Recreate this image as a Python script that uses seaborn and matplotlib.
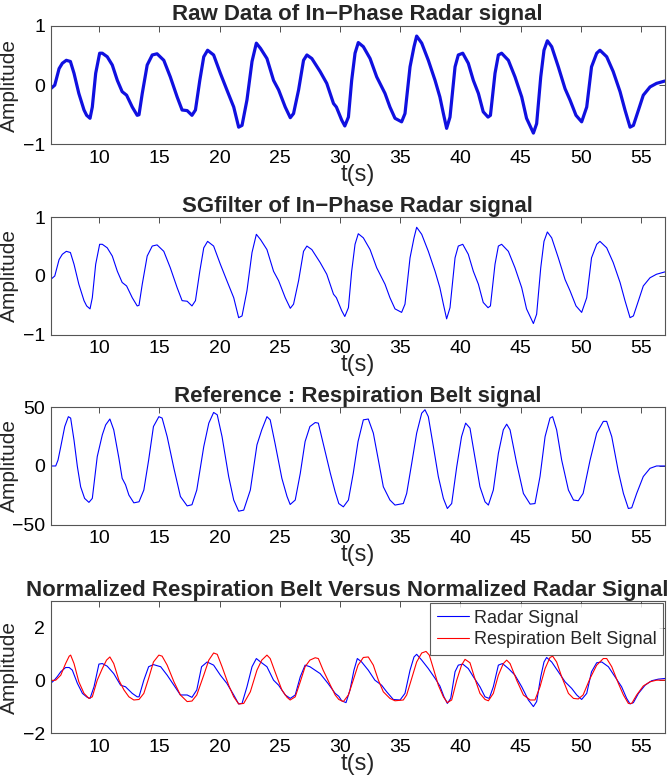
import matplotlib
matplotlib.use("Agg")
import matplotlib.pyplot as plt
import seaborn as sns

sns.set_style("white")
plt.rcParams['font.family'] = ['Liberation Sans', 'DejaVu Sans']

# === DATA ===

# in-phase radar signal (raw / SG filtered look the same at this scale)
radar_t = [5.96, 6.3, 6.66, 6.93, 7.26, 7.6, 7.9, 8.3, 8.73, 8.95, 9.23, 9.42, 9.7, 10.03, 10.25,
           10.66, 11.08, 11.5, 11.9, 12.27, 12.74, 13.15, 13.3, 13.57, 13.98, 14.4, 14.8, 15.36,
           15.9, 16.47, 16.88, 17.3, 17.7, 17.99, 18.35, 18.68, 19.0, 19.5, 20.06, 20.6, 21.17,
           21.58, 21.86, 22.27, 22.69, 23.05, 23.4, 23.93, 24.48, 24.9, 25.45, 25.87, 26.14,
           26.56, 26.97, 27.25, 27.66, 28.35, 28.9, 29.46, 29.7, 30.14, 30.4, 30.7, 30.97, 31.25,
           31.52, 31.94, 32.5, 33.05, 33.74, 34.15, 34.57, 35.12, 35.4, 35.82, 36.15, 36.37,
           36.79, 37.34, 37.9, 38.3, 38.59, 38.86, 39.14, 39.56, 39.83, 40.2, 40.66, 41.08, 41.5,
           41.9, 42.3, 42.5, 42.88, 43.16, 43.43, 43.99, 44.54, 45.1, 45.5, 46.07, 46.34, 46.68,
           46.95, 47.23, 47.59, 48.14, 48.7, 49.11, 49.61, 50.08, 50.5, 50.9, 51.33, 51.6, 52.16,
           52.7, 53.27, 53.68, 54.1, 54.38, 54.8, 55.2, 55.76, 56.3, 57.0]
radar_amp = [-0.06, 0.0, 0.28, 0.37, 0.42, 0.40, 0.2, -0.14, -0.42, -0.51, -0.56, -0.37, 0.2, 0.54,
             0.54, 0.48, 0.34, 0.08, -0.11, -0.17, -0.37, -0.51, -0.5, -0.14, 0.34, 0.51, 0.53,
             0.42, 0.14, -0.2, -0.42, -0.43, -0.51, -0.42, 0.08, 0.48, 0.59, 0.51, 0.2, -0.08,
             -0.37, -0.71, -0.68, -0.25, 0.40, 0.71, 0.62, 0.45, 0.08, -0.08, -0.37, -0.55, -0.48,
             -0.08, 0.42, 0.51, 0.45, 0.23, 0.03, -0.31, -0.37, -0.59, -0.69, -0.54, 0.08, 0.54,
             0.72, 0.65, 0.45, 0.14, -0.14, -0.37, -0.56, -0.62, -0.48, 0.31, 0.65, 0.83, 0.71,
             0.42, 0.08, -0.2, -0.48, -0.73, -0.54, 0.31, 0.51, 0.54, 0.37, 0.08, -0.14, -0.45,
             -0.54, -0.51, 0.2, 0.51, 0.54, 0.42, 0.14, -0.2, -0.56, -0.81, -0.65, 0.14, 0.59,
             0.75, 0.65, 0.31, -0.06, -0.25, -0.51, -0.62, -0.37, 0.31, 0.54, 0.59, 0.48, 0.23,
             -0.11, -0.42, -0.71, -0.68, -0.42, -0.17, -0.03, 0.03, 0.07]

# respiration belt signal
belt_t = [5.96, 6.38, 6.57, 6.8, 7.13, 7.43, 7.62, 7.9, 8.18, 8.45, 8.78, 9.14, 9.42, 9.83, 10.25,
          10.53, 10.88, 11.2, 11.63, 11.9, 12.18, 12.46, 12.87, 13.3, 13.7, 14.1, 14.5, 14.95,
          15.22, 15.64, 16.2, 16.74, 17.3, 17.7, 18.1, 18.68, 19.1, 19.5, 19.8, 20.2, 20.75,
          21.17, 21.58, 22.0, 22.55, 23.1, 23.5, 23.93, 24.2, 24.6, 25.17, 25.6, 25.86, 26.28,
          26.7, 27.1, 27.5, 27.94, 28.2, 28.6, 29.2, 29.6, 29.9, 30.28, 30.7, 31.1, 31.5, 31.94,
          32.35, 32.77, 33.19, 33.6, 34.15, 34.57, 35.26, 35.54, 35.96, 36.37, 36.79, 37.06,
          37.34, 37.76, 38.17, 38.59, 38.92, 39.28, 39.7, 40.1, 40.44, 40.8, 41.2, 41.63, 42.05,
          42.33, 42.74, 43.16, 43.57, 43.85, 44.13, 44.68, 45.24, 45.8, 46.2, 46.62, 47.04,
          47.45, 47.67, 48.0, 48.42, 48.98, 49.4, 49.8, 50.2, 50.78, 51.33, 51.88, 52.16, 52.58,
          53.13, 53.55, 53.96, 54.24, 54.65, 55.2, 55.76, 56.3, 57.1]
belt_amp = [0, 0, 5, 16.5, 33.6, 42, 40.8, 22, -0.6, -17.7, -27.6, -31, -27.6, 8, 26.5, 35, 40,
            30.8, 6.6, -10.5, -16, -24.8, -31.4, -30.5, -20.5, 5, 33.6, 42, 40.8, 25, -2, -26,
            -34, -33, -20.5, 16.5, 36.5, 45.6, 43.6, 25, -9, -29, -38.5, -37.6, -20.5, 18, 30.8,
            42, 39.3, 19.4, -10.5, -26, -32.8, -29, -6.3, 20.8, 33.6, 37, 36.5, 19.4, -6.3, -22,
            -32, -34.8, -29, -6.3, 20.8, 39.3, 40, 28, 5, -17.7, -29, -33.3, -32, -23.4, 2.3, 28,
            45, 47.9, 42, 16.5, -9, -27.6, -36.2, -32, -0.6, 25, 36.5, 32.2, 8, -17.7, -30.5,
            -33.3, -20.5, 10.8, 30.8, 35.6, 30.8, 2.3, -23.4, -32.5, -32, -9, 25, 40.8, 42, 30.8,
            5, -20.5, -29, -29.6, -23.4, 5, 28, 38, 38, 25, -4.8, -23.4, -36.2, -35.6, -23.4, -9,
            -2, 0, 0]

# normalized radar signal
norm_radar_t = [5.96, 6.24, 6.5, 6.8, 7.2, 7.5, 7.76, 8.18, 8.6, 9.0, 9.23, 9.56, 9.97, 10.25,
                10.66, 11.2, 11.77, 12.18, 12.74, 13.15, 13.3, 13.7, 14.1, 14.5, 15.1, 15.64,
                16.2, 16.74, 17.3, 17.7, 18.1, 18.5, 18.96, 19.5, 20.06, 20.6, 21.17, 21.58,
                21.86, 22.27, 22.69, 23.05, 23.4, 23.93, 24.48, 24.9, 25.45, 25.87, 26.28, 26.7,
                27.1, 27.5, 28.35, 29.0, 29.6, 29.9, 30.14, 30.5, 30.83, 31.16, 31.44, 31.8, 32.35,
                32.9, 33.46, 33.88, 34.43, 34.99, 35.4, 35.82, 36.15, 36.37, 36.79, 37.34, 37.9,
                38.3, 38.64, 38.92, 39.2, 39.56, 39.83, 40.2, 40.66, 41.08, 41.63, 42.05, 42.4,
                42.74, 43.16, 43.5, 44.0, 44.54, 45.1, 45.65, 46.07, 46.34, 46.68, 46.95, 47.17,
                47.59, 48.14, 48.7, 49.25, 49.67, 50.08, 50.5, 50.9, 51.33, 51.75, 52.3, 52.85,
                53.4, 53.82, 54.1, 54.38, 54.8, 55.35, 55.9, 56.45, 57.1]
norm_radar_amp = [-0.11, 0.0, 0.14, 0.33, 0.49, 0.49, 0.39, -0.11, -0.49, -0.64, -0.68, -0.24,
                  0.62, 0.64, 0.54, 0.26, -0.18, -0.24, -0.49, -0.62, -0.62, 0.01, 0.52, 0.6,
                  0.52, 0.2, -0.18, -0.55, -0.55, -0.64, -0.36, 0.52, 0.7, 0.58, 0.2, -0.11,
                  -0.55, -0.89, -0.87, -0.24, 0.52, 0.83, 0.7, 0.52, 0.01, -0.18, -0.55, -0.68,
                  -0.55, 0.14, 0.58, 0.52, 0.26, -0.11, -0.49, -0.6, -0.77, -0.84, -0.36, 0.39,
                  0.83, 0.7, 0.39, 0.01, -0.18, -0.43, -0.72, -0.74, -0.49, 0.39, 0.89, 0.99, 0.77,
                  0.45, 0.08, -0.21, -0.62, -0.87, -0.68, 0.33, 0.58, 0.62, 0.45, 0.14, -0.24,
                  -0.62, -0.68, -0.24, 0.58, 0.64, 0.45, 0.2, -0.24, -0.74, -0.99, -0.8, 0.14,
                  0.7, 0.87, 0.7, 0.33, -0.05, -0.3, -0.55, -0.72, -0.49, 0.33, 0.67, 0.7, 0.52,
                  0.14, -0.24, -0.68, -0.89, -0.84, -0.49, -0.18, -0.01, 0.05, 0.08]

# normalized respiration belt signal
norm_belt_t = [5.96, 6.38, 6.8, 7.2, 7.5, 7.62, 7.9, 8.3, 8.73, 9.14, 9.42, 9.83, 10.25, 10.6,
               10.88, 11.2, 11.63, 12.05, 12.46, 12.87, 13.3, 13.7, 14.1, 14.5, 14.95, 15.22,
               15.64, 16.2, 16.74, 17.3, 17.7, 18.1, 18.68, 19.1, 19.5, 19.8, 20.2, 20.75, 21.17,
               21.58, 22.0, 22.55, 23.1, 23.5, 23.93, 24.2, 24.6, 25.17, 25.6, 25.86, 26.28, 26.7,
               27.1, 27.5, 27.94, 28.2, 28.6, 29.2, 29.6, 29.9, 30.28, 30.7, 31.1, 31.5, 31.94,
               32.35, 32.77, 33.19, 33.6, 34.15, 34.57, 35.26, 35.54, 35.96, 36.37, 36.79, 37.15,
               37.42, 37.76, 38.17, 38.59, 38.92, 39.28, 39.7, 40.1, 40.39, 40.8, 41.2, 41.63,
               42.05, 42.33, 42.74, 43.16, 43.57, 43.85, 44.13, 44.68, 45.24, 45.8, 46.2, 46.62,
               47.04, 47.45, 47.67, 48.0, 48.42, 48.98, 49.4, 49.8, 50.2, 50.78, 51.33, 51.88,
               52.16, 52.58, 53.13, 53.55, 53.96, 54.24, 54.65, 55.2, 55.76, 56.3, 57.1]
norm_belt_amp = [0.0, 0.01, 0.2, 0.64, 0.92, 0.96, 0.64, -0.05, -0.49, -0.68, -0.62, 0.01, 0.45,
                 0.77, 0.89, 0.64, 0.01, -0.36, -0.62, -0.74, -0.72, -0.49, 0.08, 0.7, 0.96, 0.92,
                 0.58, -0.05, -0.55, -0.8, -0.78, -0.55, 0.2, 0.77, 1.04, 0.99, 0.52, -0.18,
                 -0.62, -0.89, -0.87, -0.43, 0.39, 0.77, 0.96, 0.83, 0.33, -0.36, -0.64, -0.74,
                 -0.62, -0.05, 0.52, 0.77, 0.86, 0.83, 0.39, -0.18, -0.55, -0.72, -0.8, -0.55,
                 0.01, 0.58, 0.87, 0.89, 0.58, 0.01, -0.43, -0.68, -0.77, -0.74, -0.55, 0.08,
                 0.7, 1.04, 1.1, 0.96, 0.45, -0.18, -0.62, -0.84, -0.74, 0.01, 0.58, 0.8, 0.67,
                 0.08, -0.49, -0.72, -0.77, -0.49, 0.2, 0.64, 0.77, 0.64, 0.01, -0.55, -0.74,
                 -0.74, -0.24, 0.45, 0.87, 0.92, 0.7, 0.14, -0.49, -0.68, -0.7, -0.55, 0.08, 0.58,
                 0.83, 0.83, 0.52, -0.11, -0.55, -0.87, -0.87, -0.55, -0.21, -0.05, 0.01, 0.01]

x_ticks = [10, 15, 20, 25, 30, 35, 40, 45, 50, 55]

# === FIGURE ===
fig = plt.figure(figsize=(6.72, 7.78), dpi=100)

left, width = 0.0754, 0.9141
boxes = [(0.8145, 0.1521), (0.5698, 0.1509), (0.3256, 0.1509), (0.0575, 0.1697)]
axes = [fig.add_axes([left, b, width, h]) for b, h in boxes]

blue = "#0000ff"
red = "#ff0000"

sns.lineplot(x=radar_t, y=radar_amp, ax=axes[0], color="#1010e0", lw=2.3, sort=False, estimator=None)
sns.lineplot(x=radar_t, y=radar_amp, ax=axes[1], color=blue, lw=0.8, sort=False, estimator=None)
sns.lineplot(x=belt_t, y=belt_amp, ax=axes[2], color=blue, lw=0.8, sort=False, estimator=None)
sns.lineplot(x=norm_radar_t, y=norm_radar_amp, ax=axes[3], color=blue, lw=0.8,
             sort=False, estimator=None, label="Radar Signal")
sns.lineplot(x=norm_belt_t, y=norm_belt_amp, ax=axes[3], color=red, lw=0.8,
             sort=False, estimator=None, label="Respiration Belt Signal")

titles = ["Raw Data of In\u2212Phase Radar signal",
          "SGfilter of In\u2212Phase Radar signal",
          "Reference : Respiration Belt signal",
          "Normalized Respiration Belt Versus Normalized Radar Signal"]
title_x = [0.5, 0.5, 0.5, 0.483]
ylims = [(-1, 1), (-1, 1), (-50, 50), (-2, 3)]
yticks = [[-1, 0, 1], [-1, 0, 1], [-50, 0, 50], [-2, 0, 2]]
ytick_labels = [["\u22121", "0", "1"], ["\u22121", "0", "1"],
                ["\u221250", "0", "50"], ["\u22122", "0", "2"]]

for ax, title, tx, yl, yt, ytl in zip(axes, titles, title_x, ylims, yticks, ytick_labels):
    ax.set_xlim(5.96, 57)
    ax.set_ylim(*yl)
    ax.set_xticks(x_ticks)
    ax.set_xticklabels([str(v) for v in x_ticks])
    ax.set_yticks(yt)
    ax.set_yticklabels(ytl)
    ax.tick_params(direction="in", length=4, width=0.6, top=True, right=True,
                   labelsize=14, pad=4, colors="#333333", labelcolor="black")
    for s in ax.spines.values():
        s.set_color("#555555")
        s.set_linewidth(0.8)
    ax.set_title(title, fontsize=16, fontweight="bold", pad=4, x=tx)
    ax.set_xlabel("t(s)", fontsize=17, labelpad=-2)
    ax.set_ylabel("Amplitude", fontsize=15)
    ax.yaxis.set_label_coords(-0.051, 0.5)

leg = axes[3].legend(loc="upper right", fontsize=13, frameon=True, fancybox=False,
                     borderaxespad=0.12, handlelength=1.8, handletextpad=0.25,
                     borderpad=0.35, labelspacing=0.25)
leg.get_frame().set_edgecolor("#333333")
leg.get_frame().set_linewidth(0.8)

plt.savefig("out.png", dpi=100)
